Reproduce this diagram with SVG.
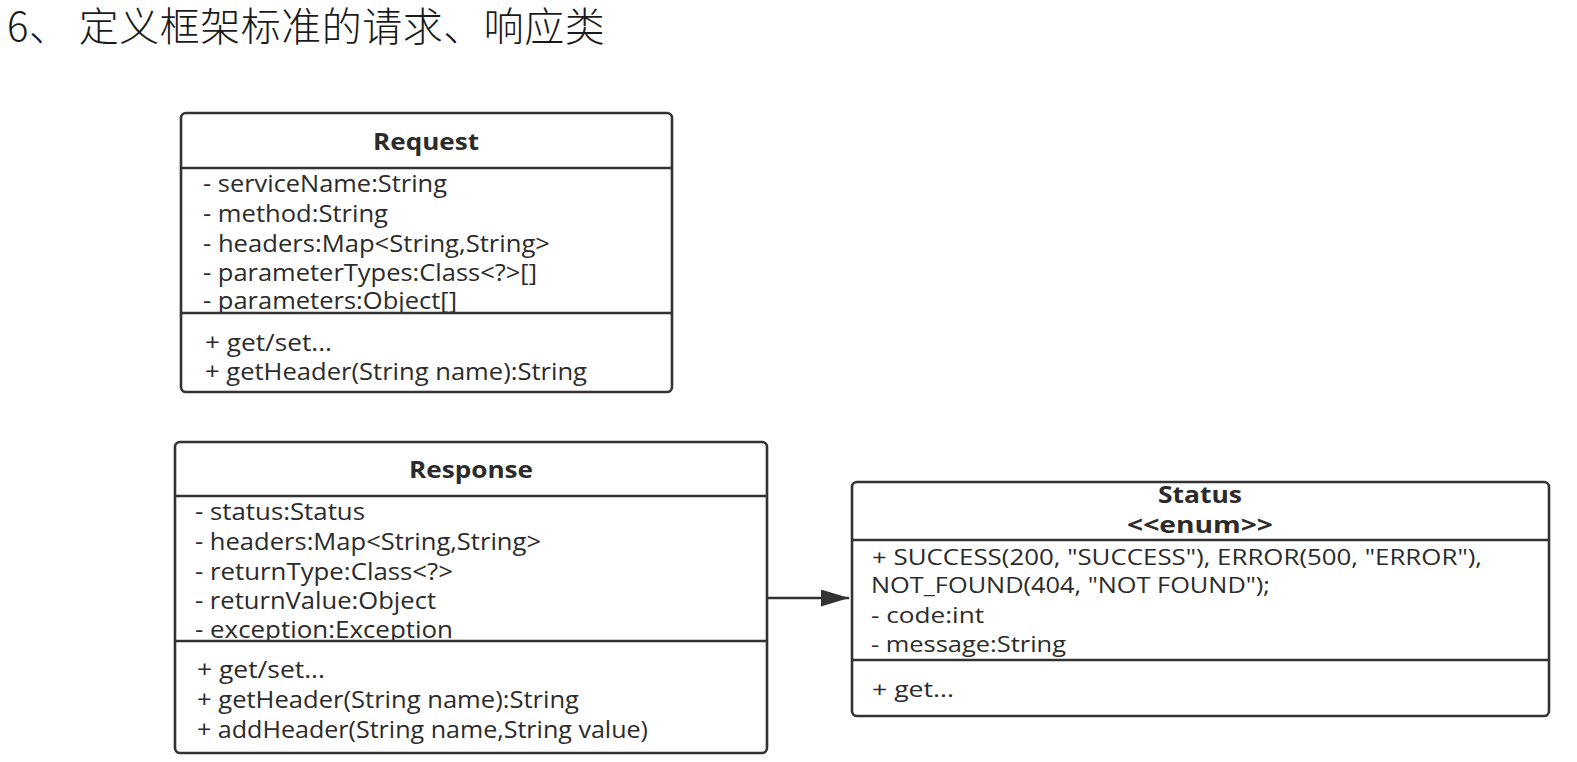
<svg xmlns="http://www.w3.org/2000/svg" width="1577" height="762" viewBox="0 0 1577 762">
<style>
.box{fill:#fff;stroke:#333;stroke-width:2.6}
.sep{stroke:#333;stroke-width:2.6}
.t{font-family:"Open Sans","Noto Sans",sans-serif;font-size:23px;fill:#2b2b2b}
.s{font-family:"Open Sans","Noto Sans",sans-serif;font-size:22px;fill:#2b2b2b}
.h{font-family:"Open Sans","Noto Sans",sans-serif;font-size:23px;font-weight:bold;fill:#2b2b2b;text-anchor:middle}
.title{font-family:"Noto Sans CJK SC","Noto Sans",sans-serif;font-size:40px;font-weight:300;letter-spacing:0.5px;fill:#1a1a1a}
.conn{stroke:#333;stroke-width:2.6;fill:none}
</style>
<defs>
<marker id="arr" viewBox="0 0 28 17" refX="28" refY="8.5" markerWidth="28" markerHeight="17" markerUnits="userSpaceOnUse" orient="auto">
<path d="M0,0 L28,8.5 L0,17 z" fill="#333"/>
</marker>
<clipPath id="cReq"><rect x="181" y="168" width="491" height="145"/></clipPath>
<clipPath id="cResp"><rect x="175" y="496" width="592" height="145"/></clipPath>
<clipPath id="cStat"><rect x="852" y="540" width="697" height="120"/></clipPath>
</defs>

<text class="title" x="7" y="41">6、 定义框架标准的请求、响应类</text>

<g id="request">
<rect class="box" x="181" y="113" width="491" height="279" rx="5"/>
<text class="h" x="426" y="150" textLength="106" lengthAdjust="spacingAndGlyphs">Request</text>
<line class="sep" x1="181" y1="168" x2="672" y2="168"/>
<g clip-path="url(#cReq)">
<text class="t" x="203" y="192" textLength="244" lengthAdjust="spacingAndGlyphs">- serviceName:String</text>
<text class="t" x="203" y="222" textLength="185" lengthAdjust="spacingAndGlyphs">- method:String</text>
<text class="t" x="203" y="252" textLength="347" lengthAdjust="spacingAndGlyphs">- headers:Map&lt;String,String&gt;</text>
<text class="t" x="203" y="281" textLength="334" lengthAdjust="spacingAndGlyphs">- parameterTypes:Class&lt;?&gt;[]</text>
<text class="t" x="203" y="309" textLength="254" lengthAdjust="spacingAndGlyphs">- parameters:Object[]</text>
</g>
<line class="sep" x1="181" y1="313" x2="672" y2="313"/>
<text class="t" x="205" y="351" textLength="127" lengthAdjust="spacingAndGlyphs">+ get/set...</text>
<text class="t" x="205" y="380" textLength="382" lengthAdjust="spacingAndGlyphs">+ getHeader(String name):String</text>
</g>

<g id="response">
<rect class="box" x="175" y="442" width="592" height="311" rx="5"/>
<text class="h" x="471" y="478" textLength="124" lengthAdjust="spacingAndGlyphs">Response</text>
<line class="sep" x1="175" y1="496" x2="767" y2="496"/>
<g clip-path="url(#cResp)">
<text class="t" x="195" y="520" textLength="170" lengthAdjust="spacingAndGlyphs">- status:Status</text>
<text class="t" x="195" y="550" textLength="346" lengthAdjust="spacingAndGlyphs">- headers:Map&lt;String,String&gt;</text>
<text class="t" x="195" y="580" textLength="258" lengthAdjust="spacingAndGlyphs">- returnType:Class&lt;?&gt;</text>
<text class="t" x="195" y="609" textLength="241" lengthAdjust="spacingAndGlyphs">- returnValue:Object</text>
<text class="t" x="195" y="638" textLength="258" lengthAdjust="spacingAndGlyphs">- exception:Exception</text>
</g>
<line class="sep" x1="175" y1="641" x2="767" y2="641"/>
<text class="t" x="197" y="678" textLength="128" lengthAdjust="spacingAndGlyphs">+ get/set...</text>
<text class="t" x="197" y="708" textLength="382" lengthAdjust="spacingAndGlyphs">+ getHeader(String name):String</text>
<text class="t" x="197" y="738" textLength="451" lengthAdjust="spacingAndGlyphs">+ addHeader(String name,String value)</text>
</g>

<g id="status">
<rect class="box" x="852" y="482" width="697" height="234" rx="5"/>
<text class="h" x="1200" y="503" textLength="84" lengthAdjust="spacingAndGlyphs">Status</text>
<text class="h" x="1200" y="533" textLength="146" lengthAdjust="spacingAndGlyphs">&lt;&lt;enum&gt;&gt;</text>
<line class="sep" x1="852" y1="540" x2="1549" y2="540"/>
<g clip-path="url(#cStat)">
<text class="s" x="872" y="565" textLength="610" lengthAdjust="spacingAndGlyphs">+ SUCCESS(200, "SUCCESS"), ERROR(500, "ERROR"),</text>
<text class="s" x="871" y="593" textLength="399" lengthAdjust="spacingAndGlyphs">NOT_FOUND(404, "NOT FOUND");</text>
<text class="s" x="871" y="623" textLength="113" lengthAdjust="spacingAndGlyphs">- code:int</text>
<text class="s" x="871" y="652" textLength="195" lengthAdjust="spacingAndGlyphs">- message:String</text>
</g>
<line class="sep" x1="852" y1="660" x2="1549" y2="660"/>
<text class="s" x="872" y="697" textLength="82" lengthAdjust="spacingAndGlyphs">+ get...</text>
</g>

<g id="connectors">
<path class="conn" d="M768,598 L849,598" marker-end="url(#arr)"/>
</g>
</svg>
